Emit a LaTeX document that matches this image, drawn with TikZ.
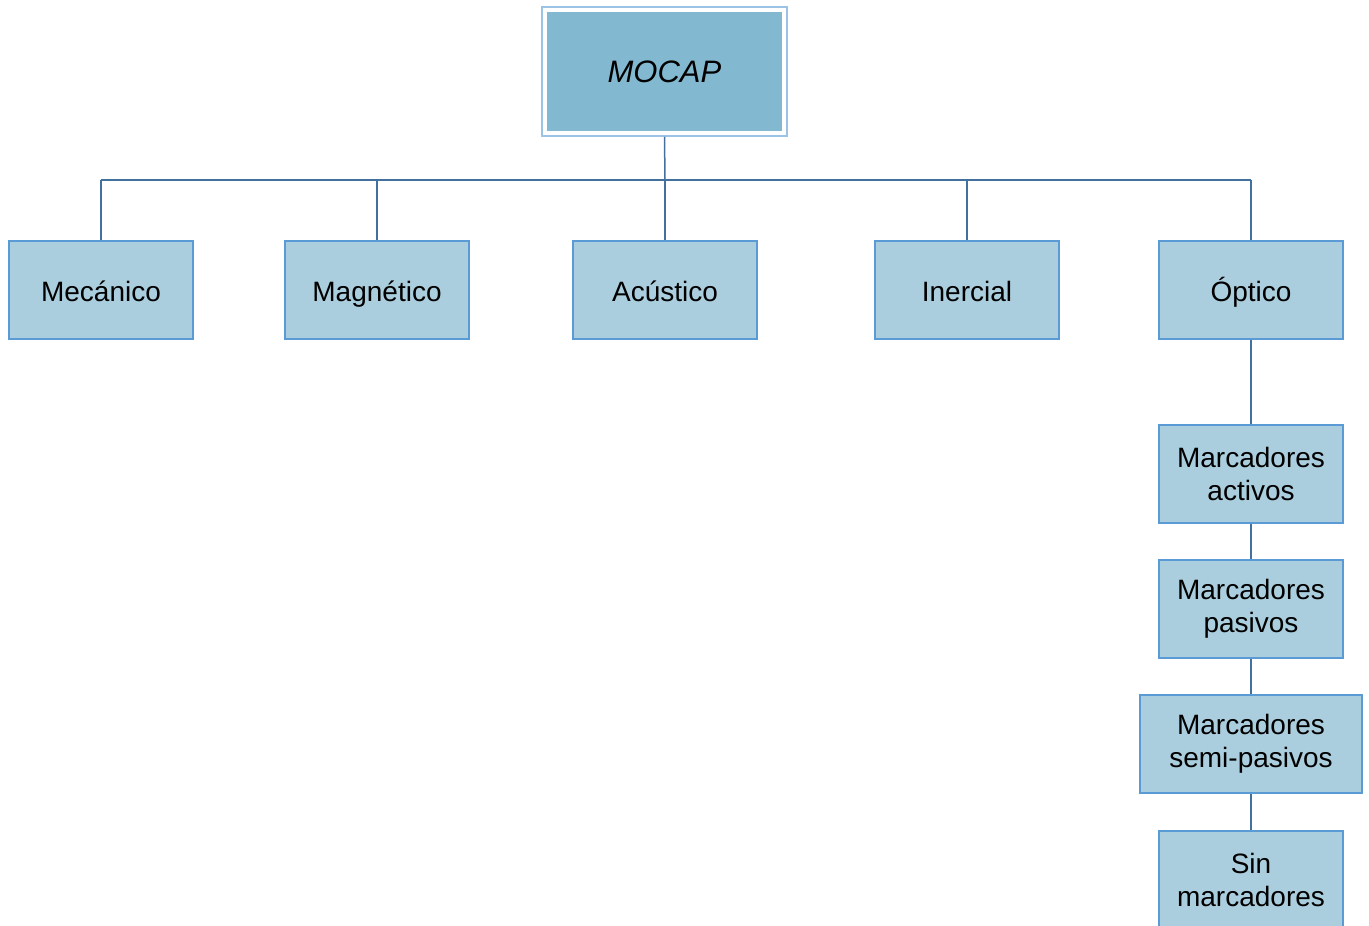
\documentclass[tikz,border=0pt]{standalone}
\usepackage{fontspec}
\setmainfont{Liberation Sans}
\definecolor{topfill}{HTML}{82B8D0}
\definecolor{topline}{HTML}{9CC3E6}
\definecolor{boxfill}{HTML}{ABCEDE}
\definecolor{boxline}{HTML}{5B9BD5}
\definecolor{conn}{HTML}{41719C}
\begin{document}
\begin{tikzpicture}[x=1pt,y=-1pt,
  box/.style={draw=boxline,fill=boxfill,line width=1.5pt,minimum width=184pt,minimum height=98pt,
    inner sep=0pt,align=center,font=\fontsize{28}{33}\selectfont},
  one/.style={text height=26pt,text depth=4pt},
  topbox/.style={draw=topline,line width=1.5pt,fill=white,minimum width=245pt,minimum height=129pt,inner sep=0pt},
  link/.style={draw=conn,line width=1.5pt}]
\useasboundingbox (0,0) rectangle (1369,926);
\node[topbox] (topo) at (664.5,71.5) {};
\node[fill=topfill,minimum width=235pt,minimum height=119pt,inner sep=0pt,
  font=\fontsize{31}{36}\selectfont\itshape] (top) at (664.5,71.5) {MOCAP};
\node[box,one] (mec) at (101,290) {Mecánico};
\node[box,one] (mag) at (377,290) {Magnético};
\node[box,one] (acu) at (665,290) {Acústico};
\node[box,one] (ine) at (967,290) {Inercial};
\node[box,one] (opt) at (1251,290) {Óptico};
\node[box] (act) at (1251,474) {Marcadores\\activos};
\node[box] (pas) at (1251,609) {Marcadores\\pasivos};
\node[box,minimum width=222pt] (sem) at (1251,744) {Marcadores\\semi-pasivos};
\node[box] (sin) at (1251,880) {Sin\\marcadores};
\coordinate (bus) at (665,180);
\draw[link] (topo.south) -- (bus);
\foreach \n in {mec,mag,acu,ine,opt}
  \draw[link] (bus -| \n.north) -- (\n.north);
\draw[link] (bus -| mec.north) -- (bus -| opt.north);
\draw[link] (opt) -- (act);
\draw[link] (act) -- (pas);
\draw[link] (pas) -- (sem);
\draw[link] (sem) -- (sin);
\end{tikzpicture}
\end{document}
